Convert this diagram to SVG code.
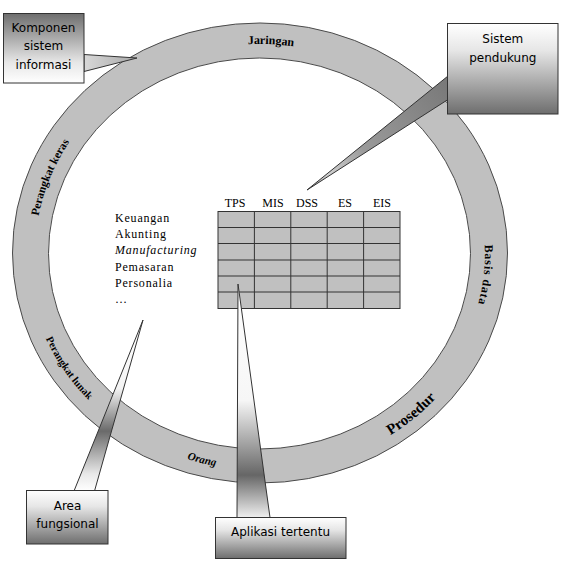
<svg xmlns="http://www.w3.org/2000/svg" xmlns:xlink="http://www.w3.org/1999/xlink" width="584" height="566" viewBox="0 0 584 566">
<style>
.ring{fill:#c0c0c0;stroke:#4a4a4a;stroke-width:1;fill-rule:evenodd}
.rl{font-family:"Liberation Serif",serif;font-weight:bold;fill:#000}
.box{stroke:#333;stroke-width:1}
.ct{font-family:"DejaVu Sans",sans-serif;font-size:12px;fill:#000;text-anchor:middle}
.cell{fill:#c0c0c0;stroke:#333;stroke-width:1}
.grid{stroke:#333;stroke-width:1}
.th{font-family:"Liberation Serif",serif;font-size:12px;text-anchor:middle;fill:#000}
.row{font-family:"Liberation Serif",serif;font-size:12px;letter-spacing:0.8px;fill:#000}
.wedge{stroke:#333;stroke-width:1}
</style>
<defs>
<linearGradient id="gDown" x1="0" y1="0" x2="0" y2="1">
<stop offset="0" stop-color="#ffffff"/><stop offset="0.3" stop-color="#e6e6e6"/><stop offset="1" stop-color="#6e6e6e"/>
</linearGradient>
<linearGradient id="gUp" x1="0" y1="0" x2="0" y2="1">
<stop offset="0" stop-color="#6e6e6e"/><stop offset="0.7" stop-color="#e6e6e6"/><stop offset="1" stop-color="#ffffff"/>
</linearGradient>
<linearGradient id="gKomp" gradientUnits="userSpaceOnUse" x1="84" y1="0" x2="137" y2="0">
<stop offset="0" stop-color="#d8d8d8"/><stop offset="1" stop-color="#a8a8a8"/>
</linearGradient>
<linearGradient id="gSis" gradientUnits="userSpaceOnUse" x1="448" y1="88" x2="307" y2="190">
<stop offset="0" stop-color="#7a7a7a"/><stop offset="0.6" stop-color="#9a9a9a"/><stop offset="0.85" stop-color="#d0d0d0"/><stop offset="1" stop-color="#999"/>
</linearGradient>
<linearGradient id="gArea" gradientUnits="userSpaceOnUse" x1="0" y1="320" x2="0" y2="491">
<stop offset="0" stop-color="#ffffff"/><stop offset="0.4" stop-color="#f4f4f4"/><stop offset="0.65" stop-color="#6a6a6a"/><stop offset="0.9" stop-color="#e8e8e8"/><stop offset="1" stop-color="#ffffff"/>
</linearGradient>
<linearGradient id="gApl" gradientUnits="userSpaceOnUse" x1="0" y1="284" x2="0" y2="517">
<stop offset="0" stop-color="#ffffff"/><stop offset="0.5" stop-color="#f6f6f6"/><stop offset="0.82" stop-color="#666"/><stop offset="1" stop-color="#eeeeee"/>
</linearGradient>
<path id="cw" d="M35,253 A225 209 0 1 1 485,253 A225 209 0 1 1 35,253"/>
<path id="ccw" d="M27,253 A233 217 0 1 0 493,253 A233 217 0 1 0 27,253"/>
<path id="ccw2" d="M25,253 A235 219 0 1 0 495,253 A235 219 0 1 0 25,253"/>
</defs>

<g id="ring">
<path class="ring" d="M12.5,253 A247.5 230 0 1 1 507.5,253 A247.5 230 0 1 1 12.5,253 Z M48.5,253.5 A211 195.5 0 1 0 470.5,253.5 A211 195.5 0 1 0 48.5,253.5 Z"/>
<text class="rl" font-size="12"><textPath xlink:href="#cw" href="#cw" startOffset="25.8%" text-anchor="middle">Jaringan</textPath></text>
<text class="rl" font-size="11.5"><textPath xlink:href="#cw" href="#cw" startOffset="5.7%" text-anchor="middle">Perangkat keras</textPath></text>
<text class="rl" font-size="12" letter-spacing="0.8"><textPath xlink:href="#cw" href="#cw" startOffset="51.6%" text-anchor="middle">Basis data</textPath></text>
<text class="rl" font-size="10.5"><textPath xlink:href="#ccw" href="#ccw" startOffset="8.9%" text-anchor="middle">Perangkat lunak</textPath></text>
<text class="rl" font-size="11" font-style="italic"><textPath xlink:href="#ccw" href="#ccw" startOffset="20.8%" text-anchor="middle">Orang</textPath></text>
<text class="rl" font-size="15"><textPath xlink:href="#ccw2" href="#ccw2" startOffset="36.7%" text-anchor="middle">Prosedur</textPath></text>
</g>

<g id="table">
<rect class="cell" x="218" y="211.5" width="182" height="97"/>
<g class="grid">
<line x1="254.4" y1="211.5" x2="254.4" y2="308.5"/>
<line x1="290.8" y1="211.5" x2="290.8" y2="308.5"/>
<line x1="327.2" y1="211.5" x2="327.2" y2="308.5"/>
<line x1="363.6" y1="211.5" x2="363.6" y2="308.5"/>
<line x1="218" y1="227.5" x2="400" y2="227.5"/>
<line x1="218" y1="243.5" x2="400" y2="243.5"/>
<line x1="218" y1="260" x2="400" y2="260"/>
<line x1="218" y1="276" x2="400" y2="276"/>
<line x1="218" y1="292" x2="400" y2="292"/>
</g>
<text class="th" x="235" y="207">TPS</text>
<text class="th" x="273" y="207">MIS</text>
<text class="th" x="307" y="207">DSS</text>
<text class="th" x="345" y="207">ES</text>
<text class="th" x="382" y="207">EIS</text>
</g>

<g id="areas">
<text class="row" x="115" y="222">Keuangan</text>
<text class="row" x="115" y="238">Akunting</text>
<text class="row" x="115" y="254" font-style="italic" fill="#4d4d4d">Manufacturing</text>
<text class="row" x="115" y="271">Pemasaran</text>
<text class="row" x="115" y="287">Personalia</text>
<text class="row" x="115" y="303">…</text>
</g>

<g id="callout-komponen">
<polygon class="wedge" fill="url(#gKomp)" points="84,54.5 137,58 84,71.5"/>
<rect class="box" x="3.5" y="13.5" width="80.5" height="69.5" fill="url(#gUp)"/>
<text class="ct" x="43.5" y="32">Komponen</text>
<text class="ct" x="43.5" y="50">sistem</text>
<text class="ct" x="43.5" y="68.5">informasi</text>
</g>

<g id="callout-sistem">
<polygon class="wedge" fill="url(#gSis)" points="448,76 307,190 448,99.5"/>
<rect class="box" x="447.5" y="23.5" width="110.5" height="90.5" fill="url(#gDown)"/>
<text class="ct" x="502.8" y="43">Sistem</text>
<text class="ct" x="502.8" y="62">pendukung</text>
</g>

<g id="callout-area">
<polygon class="wedge" fill="url(#gArea)" points="143,320 74,491 94.5,491"/>
<rect class="box" x="26.5" y="490.5" width="81.5" height="53.5" fill="url(#gDown)"/>
<text class="ct" x="67.5" y="509.5">Area</text>
<text class="ct" x="67.5" y="528">fungsional</text>
</g>

<g id="callout-aplikasi">
<polygon class="wedge" fill="url(#gApl)" points="238,284 237,517.5 270,517.5"/>
<rect class="box" x="215.5" y="517.5" width="130.5" height="41" fill="url(#gDown)"/>
<text class="ct" x="280.5" y="536">Aplikasi tertentu</text>
</g>
</svg>
